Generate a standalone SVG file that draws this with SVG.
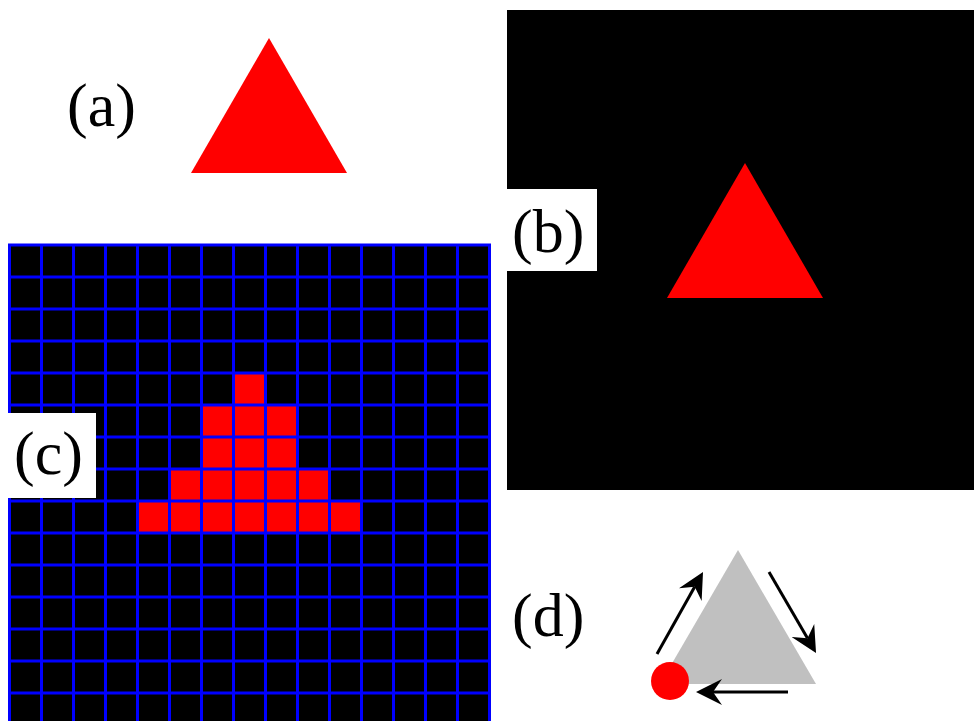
<svg xmlns="http://www.w3.org/2000/svg" width="974" height="721" viewBox="0 0 974 721">
<style>
.lbl{font-family:'Liberation Serif','Times New Roman',Times,'DejaVu Serif',serif;font-size:62px;fill:#000}
.red{fill:#ff0000}
.grid line{stroke:#0000ff;stroke-width:3}
.arr{stroke:#000;stroke-width:3;fill:none;marker-end:url(#ah)}
</style>
<defs>
<marker id="ah" markerUnits="userSpaceOnUse" markerWidth="28" markerHeight="26" viewBox="0 0 28 26" refX="9" refY="13" orient="auto">
<path d="M26,13 L0,0 L9,13 L0,26 Z" fill="#000"/>
</marker>
</defs>
<rect width="974" height="721" fill="#fff"/>
<g id="panel-a">
<polygon class="red" points="269,38 347,173 191,173"/>
<text class="lbl" font-family="Liberation Serif, serif" x="67" y="126">(a)</text>
</g>
<g id="panel-b">
<rect x="507" y="10" width="467" height="480" fill="#000"/>
<polygon class="red" points="745,163 823,298 667,298"/>
<rect x="507" y="189" width="90" height="82" fill="#fff"/>
<text class="lbl" font-family="Liberation Serif, serif" x="512" y="252">(b)</text>
</g>
<g id="panel-c">
<rect x="9.5" y="245" width="480" height="480" fill="#000"/>
<g class="red">
<rect x="233.5" y="373" width="32" height="32"/>
<rect x="201.5" y="405" width="96" height="64"/>
<rect x="169.5" y="469" width="160" height="32"/>
<rect x="137.5" y="501" width="224" height="32"/>
</g>
<g class="grid">
<line x1="9.5" y1="245" x2="9.5" y2="725"/><line x1="41.5" y1="245" x2="41.5" y2="725"/><line x1="73.5" y1="245" x2="73.5" y2="725"/><line x1="105.5" y1="245" x2="105.5" y2="725"/><line x1="137.5" y1="245" x2="137.5" y2="725"/><line x1="169.5" y1="245" x2="169.5" y2="725"/><line x1="201.5" y1="245" x2="201.5" y2="725"/><line x1="233.5" y1="245" x2="233.5" y2="725"/><line x1="265.5" y1="245" x2="265.5" y2="725"/><line x1="297.5" y1="245" x2="297.5" y2="725"/><line x1="329.5" y1="245" x2="329.5" y2="725"/><line x1="361.5" y1="245" x2="361.5" y2="725"/><line x1="393.5" y1="245" x2="393.5" y2="725"/><line x1="425.5" y1="245" x2="425.5" y2="725"/><line x1="457.5" y1="245" x2="457.5" y2="725"/><line x1="489.5" y1="245" x2="489.5" y2="725"/>
<line x1="8" y1="245" x2="491" y2="245"/><line x1="8" y1="277" x2="491" y2="277"/><line x1="8" y1="309" x2="491" y2="309"/><line x1="8" y1="341" x2="491" y2="341"/><line x1="8" y1="373" x2="491" y2="373"/><line x1="8" y1="405" x2="491" y2="405"/><line x1="8" y1="437" x2="491" y2="437"/><line x1="8" y1="469" x2="491" y2="469"/><line x1="8" y1="501" x2="491" y2="501"/><line x1="8" y1="533" x2="491" y2="533"/><line x1="8" y1="565" x2="491" y2="565"/><line x1="8" y1="597" x2="491" y2="597"/><line x1="8" y1="629" x2="491" y2="629"/><line x1="8" y1="661" x2="491" y2="661"/><line x1="8" y1="693" x2="491" y2="693"/>
</g>
<rect x="8" y="413" width="88" height="85" fill="#fff"/>
<text class="lbl" font-family="Liberation Serif, serif" x="14" y="474">(c)</text>
</g>
<g id="panel-d">
<polygon points="738,550 816,684 660,684" fill="#c0c0c0"/>
<circle cx="670" cy="681" r="19" class="red"/>
<text class="lbl" font-family="Liberation Serif, serif" x="512" y="636">(d)</text>
</g>
<g id="connectors">
<line class="arr" x1="657" y1="654" x2="694.7" y2="586.8"/>
<line class="arr" x1="769" y1="572" x2="807.5" y2="638.3"/>
<line class="arr" x1="788" y1="692" x2="713" y2="692"/>
</g>
</svg>
